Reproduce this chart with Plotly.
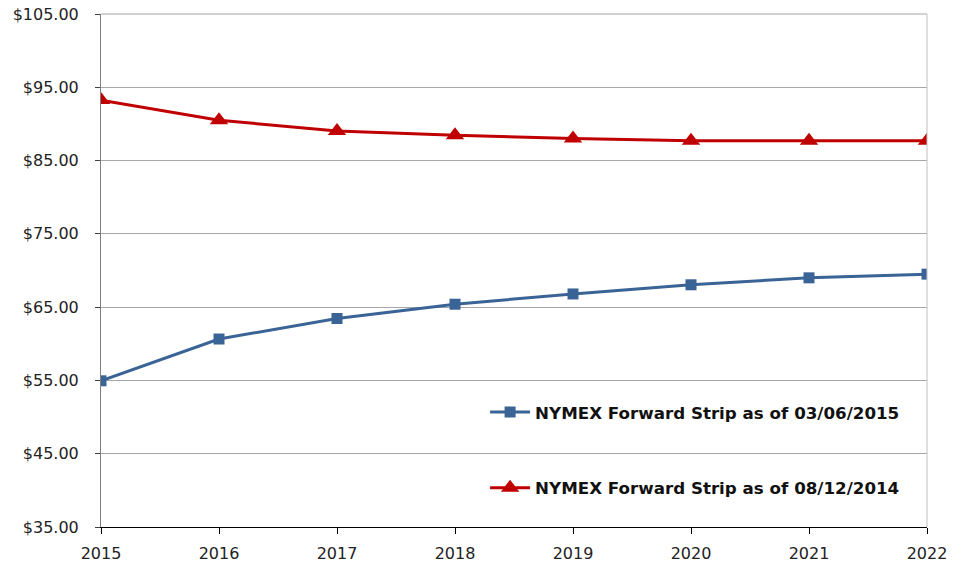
import plotly.graph_objects as go

years = [2015, 2016, 2017, 2018, 2019, 2020, 2021, 2022]
strip_2015 = [54.95, 60.65, 63.45, 65.40, 66.80, 68.05, 69.00, 69.50]
strip_2014 = [93.25, 90.50, 89.05, 88.45, 88.00, 87.70, 87.70, 87.70]
y_ticks = [35, 45, 55, 65, 75, 85, 95, 105]
y_labels = ["$%.2f" % v for v in y_ticks]

FONT = "DejaVu Sans"

fig = go.Figure()
fig.add_trace(go.Scatter(
    x=years, y=strip_2015, mode="lines+markers",
    name="NYMEX Forward Strip as of 03/06/2015", legendgroup="a",
    line=dict(color="#3A6396", width=3),
    marker=dict(symbol="square", size=11, color="#3A6396"),
))
fig.add_trace(go.Scatter(
    x=years, y=strip_2014, mode="lines+markers",
    name="NYMEX Forward Strip as of 08/12/2014", legendgroup="b",
    line=dict(color="#C00000", width=3),
    marker=dict(symbol="triangle-up", size=16, color="#C00000"),
))

fig.update_layout(
    width=978, height=569,
    margin=dict(l=101, r=51, t=14, b=42, autoexpand=False),
    paper_bgcolor="white", plot_bgcolor="white",
    font=dict(family=FONT, size=16, color="#222222"),
    showlegend=True,
    legend=dict(
        x=0.465, y=0.258, xanchor="left", yanchor="top",
        font=dict(family=FONT, size=16.7, color="#111111", weight="bold"),
        tracegroupgap=51, bgcolor="rgba(0,0,0,0)", itemwidth=40,
    ),
    shapes=[
        dict(type="line", xref="paper", yref="paper", x0=1, x1=1, y0=0, y1=1,
             line=dict(color="#C0C0C0", width=1)),
        dict(type="line", xref="paper", yref="paper", x0=0, x1=1, y0=1, y1=1,
             line=dict(color="#A6A6A6", width=1), layer="below"),
    ],
)
fig.update_xaxes(
    range=[2015, 2022], tickmode="array", tickvals=years,
    ticktext=[str(y) for y in years], showgrid=False, automargin=False,
    showline=True, linecolor="#000000", linewidth=1,
    ticks="outside", ticklen=6, tickcolor="#000000",
    tickfont=dict(family=FONT, size=16, color="#222222"),
    ticklabelstandoff=6, ticklabeloverflow="allow",
    zeroline=False,
)
fig.update_yaxes(
    range=[35, 105], tickmode="array", tickvals=y_ticks, ticktext=y_labels,
    showgrid=True, gridcolor="#A6A6A6", gridwidth=1, automargin=False,
    showline=True, linecolor="#7F7F7F", linewidth=1,
    ticks="outside", ticklen=5, tickcolor="#404040",
    tickfont=dict(family=FONT, size=16, color="#222222"),
    ticklabelstandoff=13, ticklabeloverflow="allow",
    zeroline=False,
)

fig.write_html("out.html", config={"displayModeBar": False},
               post_script="document.body.style.margin='0';")
